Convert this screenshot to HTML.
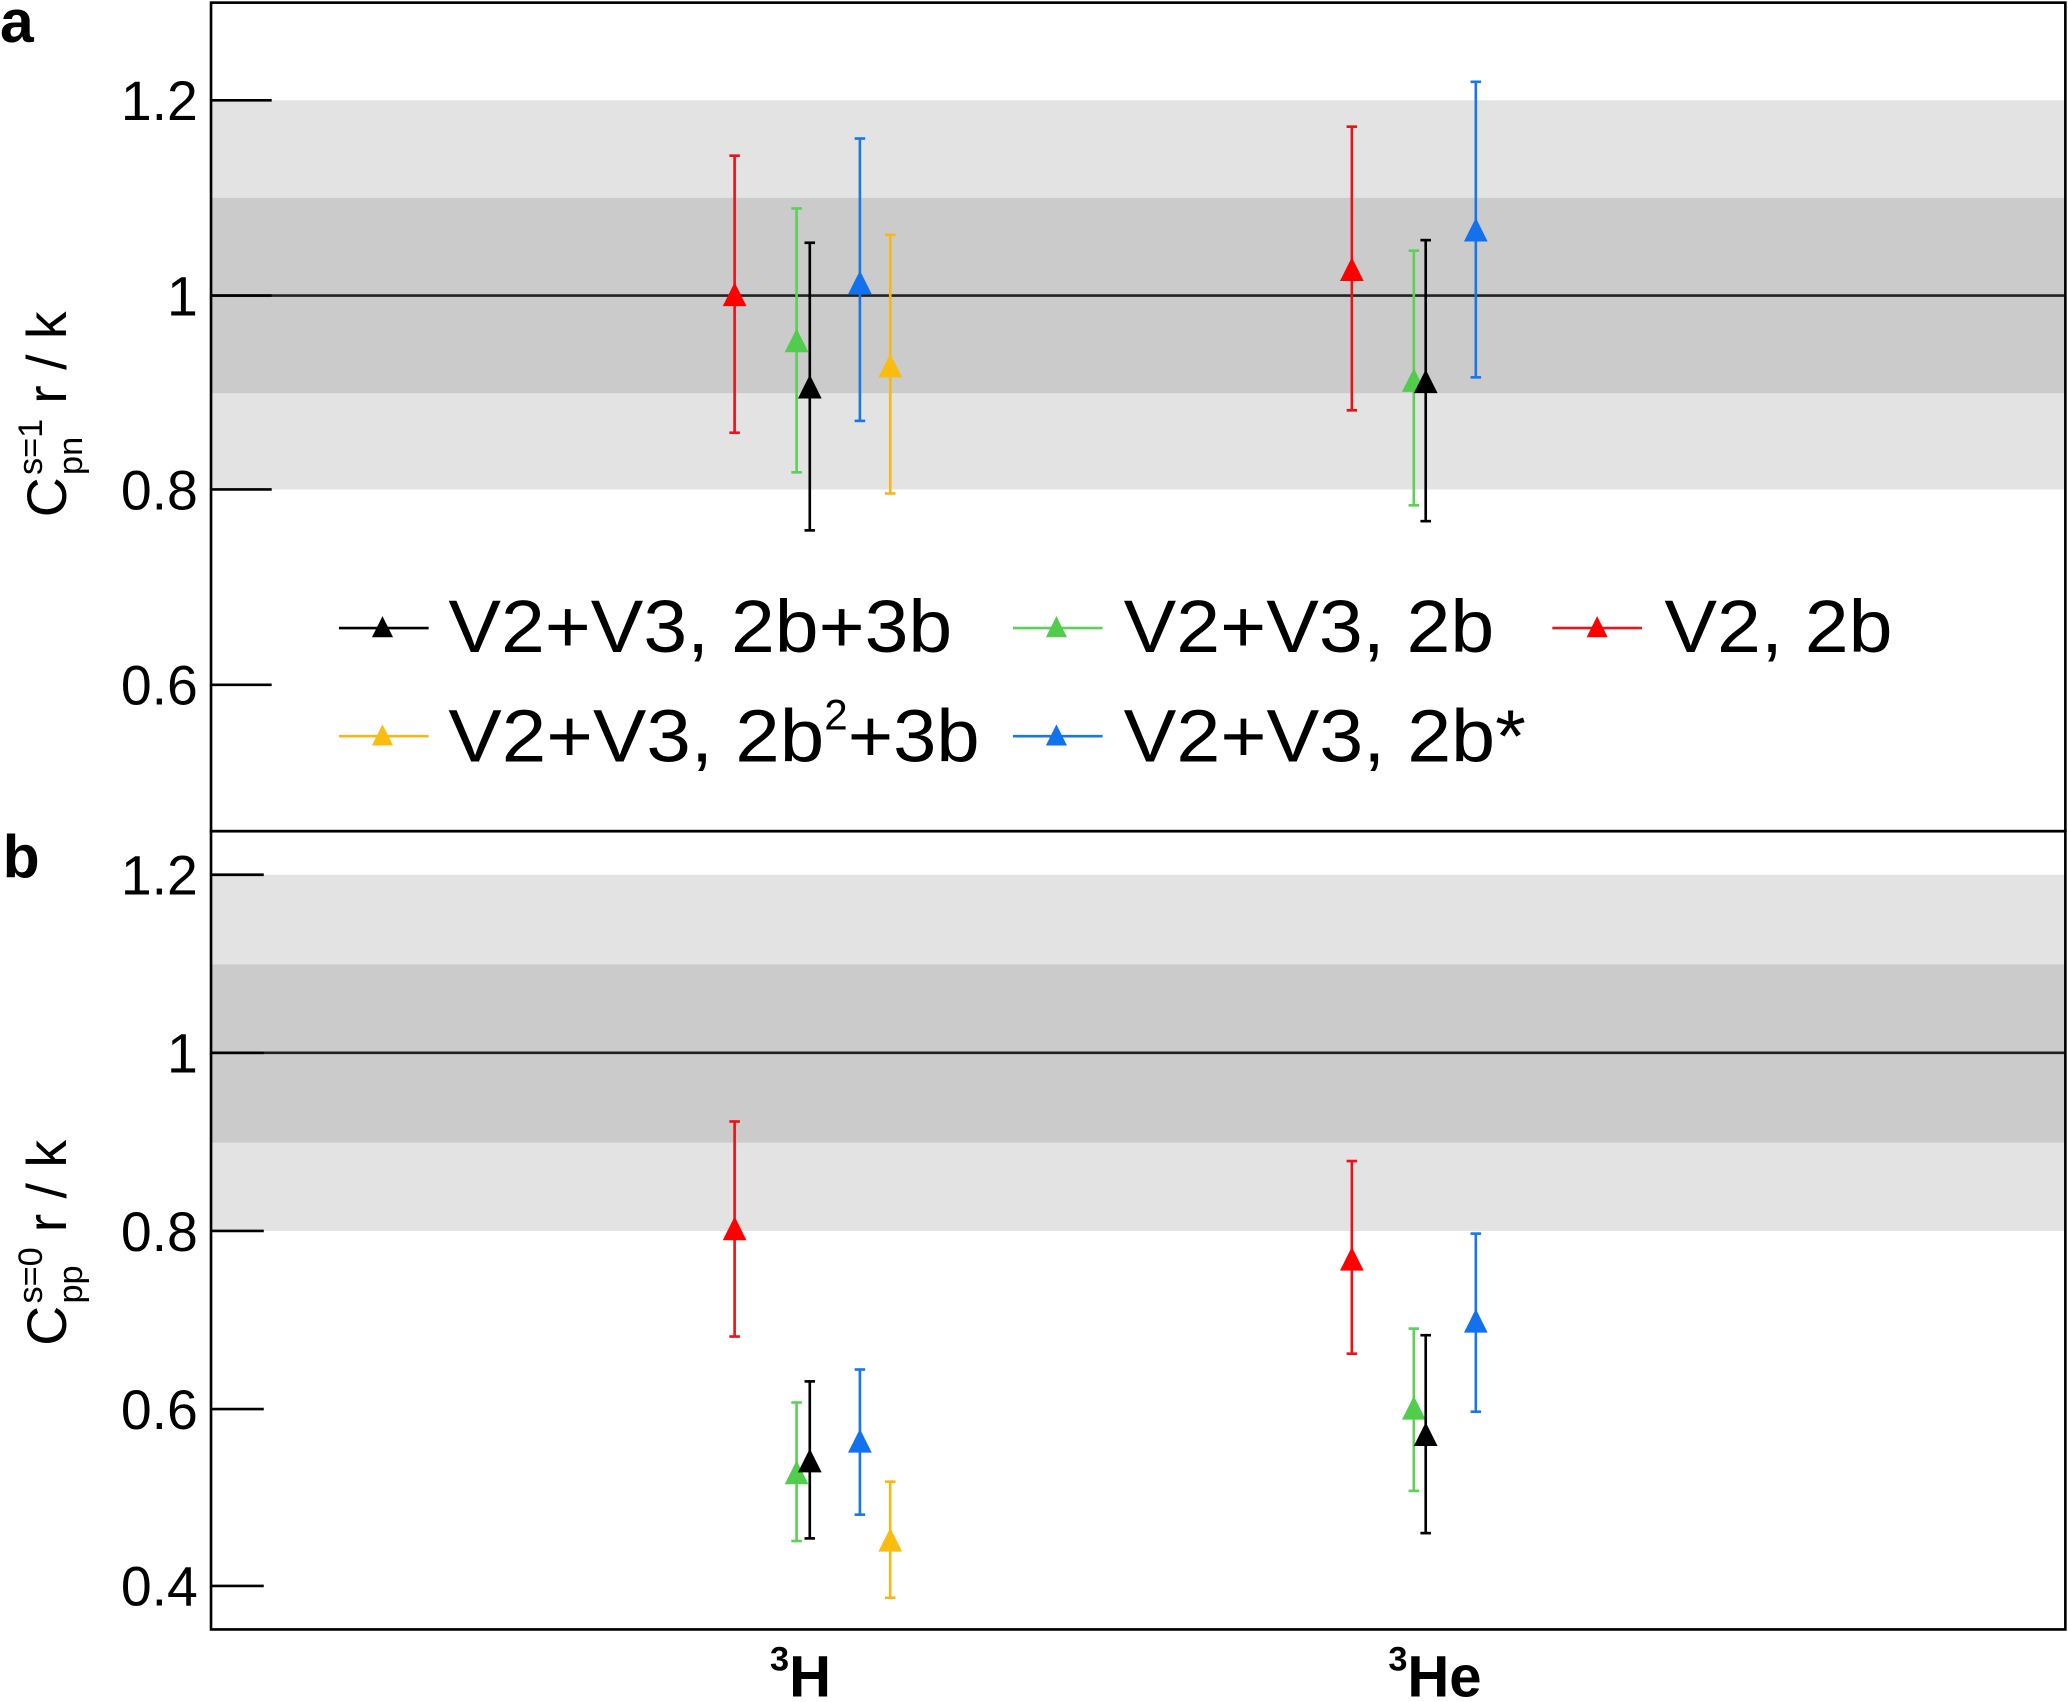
<!DOCTYPE html>
<html><head><meta charset="utf-8"><style>
html,body{margin:0;padding:0;background:#fff;}
svg{display:block;}
text{font-family:"Liberation Sans",Arial,sans-serif;}
</style></head><body>
<svg width="2068" height="1702" viewBox="0 0 1568 1290" preserveAspectRatio="none" xmlns="http://www.w3.org/2000/svg">
<!-- Panel a bands -->
<rect x="160" y="76" width="1406" height="295" fill="#e3e3e3"/>
<rect x="160" y="150" width="1406" height="148" fill="#cbcbcb"/>
<line x1="160" y1="224" x2="1566" y2="224" stroke="#222" stroke-width="2"/>
<!-- Panel b bands -->
<rect x="160" y="663" width="1406" height="270" fill="#e3e3e3"/>
<rect x="160" y="731" width="1406" height="135" fill="#cbcbcb"/>
<line x1="160" y1="798" x2="1566" y2="798" stroke="#222" stroke-width="2"/>
<!-- frames -->
<rect x="160" y="2" width="1406" height="628" fill="none" stroke="#000" stroke-width="2"/>
<rect x="160" y="630" width="1406" height="605" fill="none" stroke="#000" stroke-width="2"/>
<g stroke="#000" stroke-width="2">
<line x1="160" y1="76" x2="206" y2="76"/><line x1="160" y1="224" x2="206" y2="224"/>
<line x1="160" y1="371" x2="206" y2="371"/><line x1="160" y1="519" x2="206" y2="519"/>
<line x1="160" y1="663" x2="200" y2="663"/><line x1="160" y1="798" x2="200" y2="798"/>
<line x1="160" y1="933" x2="200" y2="933"/><line x1="160" y1="1068" x2="200" y2="1068"/>
<line x1="160" y1="1202" x2="200" y2="1202"/>
</g>
<g font-size="42" text-anchor="end" fill="#000">
<text x="150" y="91">1.2</text><text x="150" y="239">1</text>
<text x="150" y="386">0.8</text><text x="150" y="534">0.6</text>
<text x="150" y="678">1.2</text><text x="150" y="813">1</text>
<text x="150" y="948">0.8</text><text x="150" y="1083">0.6</text><text x="150" y="1217">0.4</text>
</g>
<text x="0" y="32" font-size="46" font-weight="bold">a</text>
<text x="2" y="665" font-size="46" font-weight="bold">b</text>
<!-- y labels -->
<g transform="translate(50,392) rotate(-90)" font-size="42">
<text x="0" y="0">C</text>
<text x="32" y="-18" font-size="26">s=1</text>
<text x="32" y="12" font-size="26">pn</text>
<text x="86" y="0">r / k</text>
</g>
<g transform="translate(50,1020) rotate(-90)" font-size="42">
<text x="0" y="0">C</text>
<text x="32" y="-18" font-size="26">s=0</text>
<text x="32" y="12" font-size="26">pp</text>
<text x="86" y="0">r / k</text>
</g>
<!-- x labels -->
<text x="607" y="1286" font-size="44" font-weight="bold" text-anchor="middle"><tspan font-size="26" dy="-20">3</tspan><tspan dy="20">H</tspan></text>
<text x="1088" y="1286" font-size="44" font-weight="bold" text-anchor="middle"><tspan font-size="26" dy="-20">3</tspan><tspan dy="20">He</tspan></text>
<g stroke-width="2">
<g stroke="#e8141a" fill="#f00"><line x1="557" y1="118" x2="557" y2="328"/><line x1="553" y1="118" x2="561" y2="118"/><line x1="553" y1="328" x2="561" y2="328"/><polygon stroke="none" points="548,232 566,232 557,214"/></g>
<g stroke="#5fcf5a" fill="#52cc4c"><line x1="604" y1="158" x2="604" y2="358"/><line x1="600" y1="158" x2="608" y2="158"/><line x1="600" y1="358" x2="608" y2="358"/><polygon stroke="none" points="595,267 613,267 604,249"/></g>
<g stroke="#000" fill="#000"><line x1="614" y1="184" x2="614" y2="402"/><line x1="610" y1="184" x2="618" y2="184"/><line x1="610" y1="402" x2="618" y2="402"/><polygon stroke="none" points="605,302 623,302 614,284"/></g>
<g stroke="#1a78e6" fill="#1272ee"><line x1="652" y1="105" x2="652" y2="319"/><line x1="648" y1="105" x2="656" y2="105"/><line x1="648" y1="319" x2="656" y2="319"/><polygon stroke="none" points="643,223 661,223 652,205"/></g>
<g stroke="#f4b81c" fill="#fbbc10"><line x1="675" y1="178" x2="675" y2="374"/><line x1="671" y1="178" x2="679" y2="178"/><line x1="671" y1="374" x2="679" y2="374"/><polygon stroke="none" points="666,286 684,286 675,268"/></g>
<g stroke="#e8141a" fill="#f00"><line x1="1025" y1="96" x2="1025" y2="311"/><line x1="1021" y1="96" x2="1029" y2="96"/><line x1="1021" y1="311" x2="1029" y2="311"/><polygon stroke="none" points="1016,213 1034,213 1025,195"/></g>
<g stroke="#5fcf5a" fill="#52cc4c"><line x1="1072" y1="190" x2="1072" y2="383"/><line x1="1068" y1="190" x2="1076" y2="190"/><line x1="1068" y1="383" x2="1076" y2="383"/><polygon stroke="none" points="1063,297 1081,297 1072,279"/></g>
<g stroke="#000" fill="#000"><line x1="1081" y1="182" x2="1081" y2="395"/><line x1="1077" y1="182" x2="1085" y2="182"/><line x1="1077" y1="395" x2="1085" y2="395"/><polygon stroke="none" points="1072,298 1090,298 1081,280"/></g>
<g stroke="#1a78e6" fill="#1272ee"><line x1="1119" y1="62" x2="1119" y2="286"/><line x1="1115" y1="62" x2="1123" y2="62"/><line x1="1115" y1="286" x2="1123" y2="286"/><polygon stroke="none" points="1110,183 1128,183 1119,165"/></g>
<g stroke="#e8141a" fill="#f00"><line x1="557" y1="850" x2="557" y2="1013"/><line x1="553" y1="850" x2="561" y2="850"/><line x1="553" y1="1013" x2="561" y2="1013"/><polygon stroke="none" points="548,940 566,940 557,922"/></g>
<g stroke="#5fcf5a" fill="#52cc4c"><line x1="604" y1="1063" x2="604" y2="1168"/><line x1="600" y1="1063" x2="608" y2="1063"/><line x1="600" y1="1168" x2="608" y2="1168"/><polygon stroke="none" points="595,1125 613,1125 604,1107"/></g>
<g stroke="#000" fill="#000"><line x1="614" y1="1047" x2="614" y2="1166"/><line x1="610" y1="1047" x2="618" y2="1047"/><line x1="610" y1="1166" x2="618" y2="1166"/><polygon stroke="none" points="605,1116 623,1116 614,1098"/></g>
<g stroke="#1a78e6" fill="#1272ee"><line x1="652" y1="1038" x2="652" y2="1148"/><line x1="648" y1="1038" x2="656" y2="1038"/><line x1="648" y1="1148" x2="656" y2="1148"/><polygon stroke="none" points="643,1101 661,1101 652,1083"/></g>
<g stroke="#f4b81c" fill="#fbbc10"><line x1="675" y1="1123" x2="675" y2="1211"/><line x1="671" y1="1123" x2="679" y2="1123"/><line x1="671" y1="1211" x2="679" y2="1211"/><polygon stroke="none" points="666,1176 684,1176 675,1158"/></g>
<g stroke="#e8141a" fill="#f00"><line x1="1025" y1="880" x2="1025" y2="1026"/><line x1="1021" y1="880" x2="1029" y2="880"/><line x1="1021" y1="1026" x2="1029" y2="1026"/><polygon stroke="none" points="1016,963 1034,963 1025,945"/></g>
<g stroke="#5fcf5a" fill="#52cc4c"><line x1="1072" y1="1007" x2="1072" y2="1130"/><line x1="1068" y1="1007" x2="1076" y2="1007"/><line x1="1068" y1="1130" x2="1076" y2="1130"/><polygon stroke="none" points="1063,1076 1081,1076 1072,1058"/></g>
<g stroke="#000" fill="#000"><line x1="1081" y1="1012" x2="1081" y2="1162"/><line x1="1077" y1="1012" x2="1085" y2="1012"/><line x1="1077" y1="1162" x2="1085" y2="1162"/><polygon stroke="none" points="1072,1096 1090,1096 1081,1078"/></g>
<g stroke="#1a78e6" fill="#1272ee"><line x1="1119" y1="935" x2="1119" y2="1070"/><line x1="1115" y1="935" x2="1123" y2="935"/><line x1="1115" y1="1070" x2="1123" y2="1070"/><polygon stroke="none" points="1110,1010 1128,1010 1119,992"/></g>
</g>
<!-- legend -->
<g stroke-width="2">
<g stroke="#000" fill="#000"><line x1="257" y1="476" x2="325" y2="476"/><polygon stroke="none" points="282,483 298,483 290,467"/></g>
<g stroke="#5fcf5a" fill="#52cc4c"><line x1="768" y1="476" x2="836" y2="476"/><polygon stroke="none" points="793,483 809,483 801,467"/></g>
<g stroke="#e8141a" fill="#f00"><line x1="1177" y1="476" x2="1245" y2="476"/><polygon stroke="none" points="1203,483 1219,483 1211,467"/></g>
<g stroke="#f4b81c" fill="#fbbc10"><line x1="257" y1="558" x2="325" y2="558"/><polygon stroke="none" points="282,565 298,565 290,549"/></g>
<g stroke="#1a78e6" fill="#1272ee"><line x1="768" y1="558" x2="836" y2="558"/><polygon stroke="none" points="793,565 809,565 801,549"/></g>
</g>
<g font-size="56" fill="#000">
<text x="340" y="494" textLength="382" lengthAdjust="spacingAndGlyphs">V2+V3, 2b+3b</text>
<text x="852" y="494" textLength="281" lengthAdjust="spacingAndGlyphs">V2+V3, 2b</text>
<text x="1262" y="494" textLength="173" lengthAdjust="spacingAndGlyphs">V2, 2b</text>
<text x="340" y="577"><tspan textLength="285" lengthAdjust="spacingAndGlyphs">V2+V3, 2b</tspan><tspan font-size="32" dy="-24">2</tspan><tspan dy="24" textLength="100" lengthAdjust="spacingAndGlyphs">+3b</tspan></text>
<text x="852" y="577" textLength="305" lengthAdjust="spacingAndGlyphs">V2+V3, 2b*</text>
</g>
</svg>
</body></html>
